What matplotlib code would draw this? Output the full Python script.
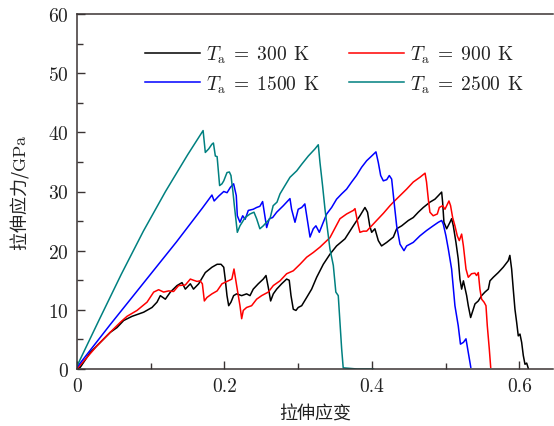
import matplotlib
matplotlib.use('Agg')
import matplotlib.pyplot as plt
from matplotlib.ticker import MultipleLocator

plt.rcParams['mathtext.fontset'] = 'cm'
plt.rcParams['axes.formatter.use_mathtext'] = True

# stress-strain data (strain, GPa)
strain_300 = [0, 0.0045, 0.018, 0.0316, 0.0452, 0.0542, 0.0633, 0.0746, 0.0904, 0.1017, 0.1085, 0.113,
              0.1198, 0.1266, 0.1356, 0.1424, 0.1469, 0.1537, 0.158, 0.165, 0.174, 0.183, 0.19, 0.1953,
              0.199, 0.201, 0.2034, 0.2057, 0.2088, 0.2124, 0.2165, 0.2233, 0.23, 0.2346, 0.239, 0.2458,
              0.2526, 0.2563, 0.2594, 0.2626, 0.2662, 0.2708, 0.2775, 0.2843, 0.2878, 0.2902, 0.2933,
              0.2969, 0.3, 0.3047, 0.3115, 0.3182, 0.325, 0.334, 0.343, 0.352, 0.3634, 0.3747, 0.3837,
              0.3905, 0.394, 0.397, 0.3996, 0.404, 0.4086, 0.413, 0.42, 0.429, 0.4335, 0.4403, 0.4493,
              0.456, 0.4628, 0.4696, 0.4786, 0.4854, 0.49, 0.4945, 0.4958, 0.4976, 0.5013, 0.5058, 0.508,
              0.5103, 0.5139, 0.517, 0.5193, 0.5216, 0.524, 0.5284, 0.5306, 0.5338, 0.5374, 0.5397,
              0.5442, 0.5487, 0.5532, 0.5578, 0.56, 0.5645, 0.5713, 0.578, 0.5848, 0.587, 0.5894, 0.5916,
              0.5939, 0.5962, 0.5984, 0.6007, 0.603, 0.6052, 0.6075, 0.6098, 0.612]
stress_300 = [0, 0.3, 2.8, 4.5, 6.2, 7.0, 8.2, 8.9, 9.6, 10.4, 11.3, 12.4, 11.8, 13.0, 14.1, 14.6, 13.5,
              14.4, 13.5, 14.4, 16.3, 17.2, 17.7, 17.7, 17.2, 15.2, 12.4, 10.7, 11.3, 12.4, 12.7, 12.4,
              12.7, 12.4, 13.5, 14.4, 15.2, 15.8, 13.8, 11.5, 12.7, 13.5, 14.4, 15.2, 15.0, 12.4, 10.1,
              9.9, 10.4, 10.7, 12.1, 13.5, 15.5, 17.7, 19.4, 20.8, 22.0, 24.2, 25.9, 27.3, 26.5, 24.2,
              23.1, 23.7, 21.7, 20.8, 21.4, 22.3, 23.7, 24.2, 25.1, 25.6, 26.5, 27.3, 28.2, 28.7, 29.3,
              29.9, 28.2, 24.8, 23.7, 24.8, 25.4, 24.2, 21.4, 18.6, 15.2, 13.5, 14.9, 12.4, 10.7, 8.7,
              10.1, 11.0, 11.5, 12.4, 13.0, 13.5, 14.9, 15.5, 16.3, 17.2, 18.3, 19.2, 16.9, 13.5, 10.1,
              7.9, 5.6, 5.9, 4.5, 2.3, 0.8, 1.0, 0.1]

strain_900 = [0, 0.002, 0.027, 0.045, 0.0588, 0.0678, 0.0814, 0.095, 0.104, 0.1107, 0.1175, 0.1243,
              0.131, 0.1378, 0.1469, 0.1537, 0.158, 0.1627, 0.167, 0.17, 0.1727, 0.1763, 0.183, 0.19,
              0.1966, 0.2034, 0.21, 0.2129, 0.2165, 0.221, 0.2233, 0.2255, 0.23, 0.2368, 0.2436, 0.2504,
              0.2594, 0.2662, 0.2753, 0.2843, 0.2933, 0.3024, 0.3115, 0.3205, 0.3295, 0.343, 0.3566,
              0.3656, 0.3747, 0.377, 0.3815, 0.3837, 0.3883, 0.3928, 0.3973, 0.4063, 0.4154, 0.4244,
              0.429, 0.438, 0.447, 0.456, 0.465, 0.472, 0.474, 0.4764, 0.4786, 0.483, 0.4886, 0.4913,
              0.4958, 0.499, 0.5013, 0.5044, 0.5066, 0.5094, 0.5125, 0.5157, 0.5184, 0.5216, 0.524,
              0.5275, 0.5306, 0.535, 0.5396, 0.5418, 0.5442, 0.5464, 0.5487, 0.552, 0.5546, 0.5564,
              0.5591, 0.561]
stress_900 = [0, 0.3, 3.9, 6.2, 7.9, 8.9, 9.9, 11.3, 13.0, 13.4, 13.0, 13.2, 13.1, 14.1, 14.2, 15.2,
              15.0, 14.8, 14.9, 14.4, 11.5, 12.1, 12.7, 13.2, 14.4, 14.8, 15.2, 16.9, 14.1, 10.7, 8.5,
              9.9, 10.4, 10.7, 11.8, 12.4, 13.0, 14.1, 14.9, 16.1, 16.6, 17.7, 18.9, 19.7, 20.6, 22.2,
              25.4, 26.2, 26.8, 27.1, 24.2, 23.1, 23.3, 23.3, 23.9, 25.1, 26.3, 27.6, 28.2, 29.3, 30.4,
              31.6, 32.4, 33.1, 31.6, 28.7, 26.5, 25.9, 26.2, 27.3, 27.6, 27.0, 27.6, 28.4, 27.6, 25.6,
              24.2, 22.5, 21.7, 22.8, 20.8, 16.9, 15.5, 16.1, 16.2, 15.8, 16.3, 13.5, 11.8, 11.3, 10.7,
              7.3, 3.4, 0.3]

strain_1500 = [0, 0.045, 0.09, 0.135, 0.17, 0.183, 0.186, 0.192, 0.199, 0.2035, 0.208, 0.2124, 0.216,
               0.2174, 0.221, 0.2247, 0.228, 0.2323, 0.239, 0.2436, 0.248, 0.2517, 0.2536, 0.2572,
               0.2608, 0.2653, 0.2708, 0.2798, 0.2888, 0.291, 0.2956, 0.3, 0.3047, 0.309, 0.3115, 0.316,
               0.3204, 0.324, 0.3286, 0.334, 0.3386, 0.3453, 0.352, 0.3589, 0.3656, 0.3724, 0.379,
               0.386, 0.3928, 0.3996, 0.4054, 0.4086, 0.4118, 0.4154, 0.42, 0.4235, 0.4267, 0.43,
               0.4335, 0.438, 0.4434, 0.447, 0.456, 0.465, 0.474, 0.483, 0.49, 0.4945, 0.4967, 0.5003,
               0.5035, 0.508, 0.5125, 0.517, 0.52, 0.524, 0.5275, 0.5306, 0.534]
stress_1500 = [0.3, 7.5, 14.5, 21.5, 27.2, 29.4, 28.4, 29.2, 30.0, 29.8, 30.7, 31.3, 29.3, 25.9, 24.8,
               25.9, 25.3, 26.8, 27.0, 27.3, 27.5, 28.3, 26.8, 23.9, 25.4, 25.6, 26.5, 27.6, 28.8, 27.0,
               24.8, 27.0, 27.3, 27.9, 25.9, 22.3, 23.7, 24.2, 23.1, 24.8, 26.2, 27.3, 28.7, 29.6, 30.4,
               31.6, 32.7, 34.1, 35.2, 36.0, 36.7, 34.9, 32.7, 31.8, 32.0, 32.7, 32.1, 28.2, 24.2, 21.1,
               20.0, 20.8, 21.4, 22.5, 23.4, 24.2, 24.8, 25.1, 24.5, 22.5, 20.3, 16.9, 10.7, 7.3, 4.2,
               4.5, 5.1, 2.8, 0.3]

strain_2500 = [0, 0.03, 0.06, 0.09, 0.12, 0.15, 0.171, 0.174, 0.1786, 0.183, 0.185, 0.1876, 0.19,
               0.1934, 0.1966, 0.199, 0.2034, 0.2066, 0.2088, 0.2115, 0.2134, 0.2174, 0.221, 0.228,
               0.2346, 0.24, 0.2436, 0.248, 0.2526, 0.257, 0.2617, 0.266, 0.2712, 0.2753, 0.282, 0.2888,
               0.298, 0.3047, 0.3137, 0.3227, 0.3272, 0.3295, 0.333, 0.3363, 0.343, 0.3476, 0.351,
               0.3543, 0.3566, 0.3589, 0.361, 0.38, 0.402]
stress_2500 = [0.5, 8.3, 16.0, 23.3, 30.0, 36.2, 40.3, 36.6, 37.2, 38.0, 38.2, 36.0, 35.9, 31.0, 31.3,
               31.8, 33.2, 33.3, 32.7, 29.9, 27.6, 23.1, 24.2, 25.6, 26.2, 26.5, 25.4, 23.7, 24.2, 24.8,
               25.4, 27.6, 28.2, 29.6, 31.0, 32.4, 33.5, 34.6, 36.0, 37.2, 37.9, 34.9, 31.0, 27.0, 20.3,
               17.5, 13.0, 12.4, 7.9, 3.4, 0.2, 0.0, 0.0]

temps = ['300', '900', '1500', '2500']
colors = ['black', '#ff0000', '#0000ff', '#008080']
series = [(strain_300, stress_300), (strain_900, stress_900),
          (strain_1500, stress_1500), (strain_2500, stress_2500)]

fig = plt.figure(figsize=(5.54, 4.27), dpi=100)
ax = fig.add_axes([77 / 554, 57 / 427, 476 / 554, 355 / 427])

lines = {}
for t, c, (x, y) in zip(temps, colors, series):
    ln, = ax.plot(x, y, color=c, linewidth=1.1, label=r'$T_{\rm a}\;=\;%s\;\,{\rm K}$' % t)
    lines[t] = ln

ax.set_xlim(0, 0.6455)
ax.set_ylim(0, 60)
ax.xaxis.set_major_locator(MultipleLocator(0.2))
ax.xaxis.set_minor_locator(MultipleLocator(0.1))
ax.yaxis.set_major_locator(MultipleLocator(10))
ax.yaxis.set_minor_locator(MultipleLocator(5))
ax.xaxis.set_major_formatter(lambda v, pos: '0' if v == 0 else '%.1f' % v)

ax.tick_params(which='both', direction='in', top=False, right=False, color='#3a3333', width=1.0)
ax.tick_params(which='major', length=6, pad=6, labelsize=14)
ax.tick_params(which='minor', length=4.5)
for lab in ax.get_xticklabels() + ax.get_yticklabels():
    lab.set_family('cmr10')
    lab.set_color('#222222')

for side in ['left', 'bottom', 'top']:
    ax.spines[side].set_linewidth(1.1)
    ax.spines[side].set_color('#3a3333')
ax.spines['right'].set_visible(False)

ax.set_xlabel('拉伸应变', family='Noto Sans CJK SC', fontsize=13, color='#222222', labelpad=7)
ax.set_ylabel(r'拉伸应力/$\rm GPa$', family='Noto Sans CJK SC', fontsize=13, color='#222222', labelpad=12)

handles = [lines['300'], lines['1500'], lines['900'], lines['2500']]
ax.legend(handles=handles, ncol=2, frameon=False, loc='upper left', bbox_to_anchor=(0.143, 0.915),
          borderpad=0, borderaxespad=0, fontsize=14, handlelength=2.8, handletextpad=0.35,
          columnspacing=1.5, labelspacing=0.4, labelcolor='#222222')

fig.savefig('out.png', dpi=100)
